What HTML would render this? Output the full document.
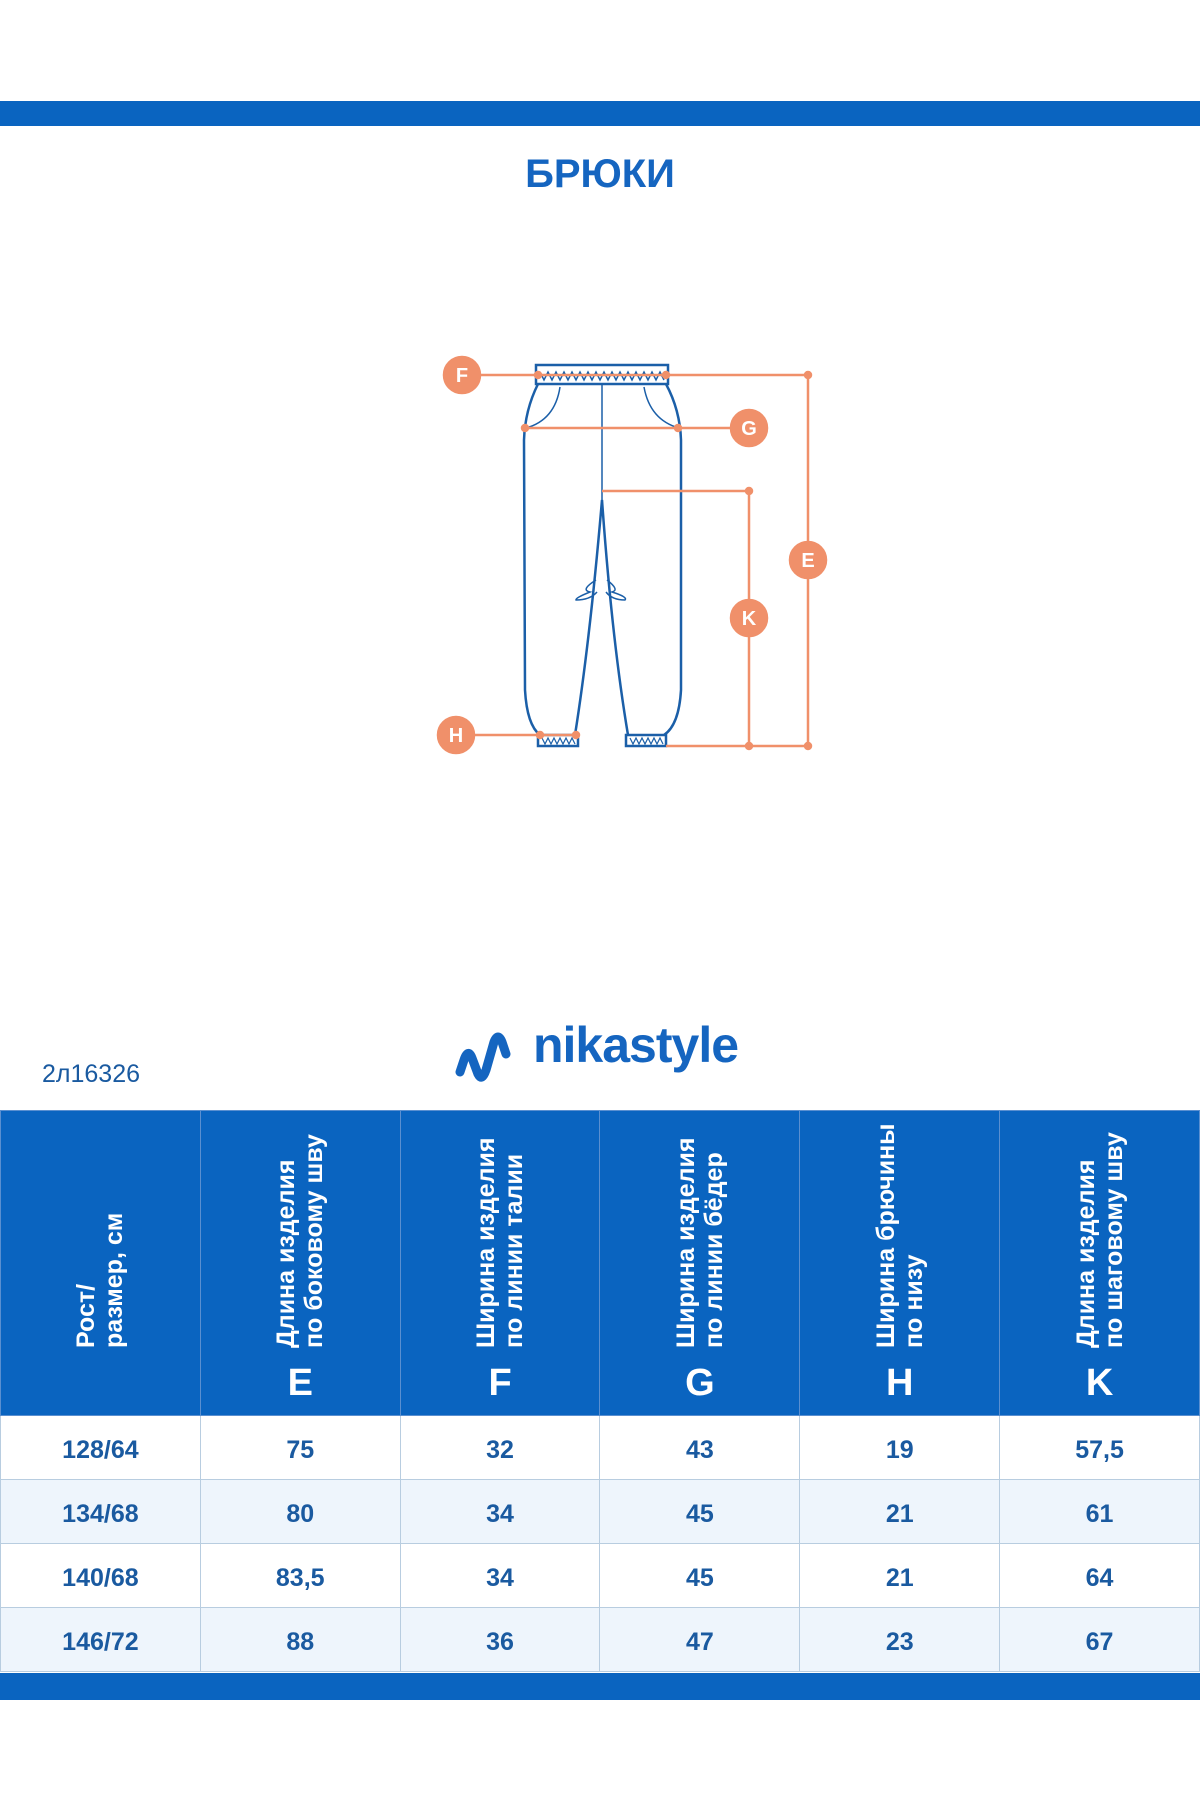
<!DOCTYPE html>
<html><head><meta charset="utf-8"><style>
body{margin:0;width:1200px;height:1800px;background:#fff;position:relative;font-family:"Liberation Sans",sans-serif;overflow:hidden}
.abs{position:absolute}
table{position:absolute;left:0;top:1110px;width:1200px;border-collapse:collapse;table-layout:fixed}
td{border:1.5px solid #b8cde0;text-align:center;color:#1a5aa0;font-weight:bold;font-size:25px;height:57px;padding:6px 0 0 0;box-sizing:content-box}
th{background:#0a64c0;border:1.5px solid #5a8fd0;height:304px;padding:0;vertical-align:bottom;color:#fff;position:relative}
.v{writing-mode:vertical-rl;transform:rotate(180deg);font-size:25px;line-height:28px;font-weight:bold;text-align:left;position:absolute;bottom:67px;left:50%;margin-left:-28px;height:260px}
.L{font-size:38px;font-weight:bold;position:absolute;bottom:10px;left:0;right:0;text-align:center}
tr.a td{background:#eef5fc}
</style></head><body>
<div class="abs" style="left:0;top:101px;width:1200px;height:25px;background:#0a64c0"></div>
<div class="abs" style="left:0;top:152px;width:1200px;text-align:center;font-size:40px;font-weight:bold;color:#1565c0">БРЮКИ</div>
<svg class="abs" style="left:0;top:0" width="1200" height="800">
<g fill="none" stroke="#1b5fa8" stroke-width="2.5">
<rect x="536" y="365" width="132" height="19"/>
<path d="M540 372 l4 8 l4 -8 l4 8 l4 -8 l4 8 l4 -8 l4 8 l4 -8 l4 8 l4 -8 l4 8 l4 -8 l4 8 l4 -8 l4 8 l4 -8 l4 8 l4 -8 l4 8 l4 -8 l4 8 l4 -8 l4 8 l4 -8 l4 8 l4 -8 l4 8 l4 -8 l4 8 l4 -8 l4 8" stroke-width="1.5"/>
<path d="M538 384 Q525 410 524 440 L525 690 Q527 725 540 735"/>
<path d="M666 384 Q680 410 681 440 L681 690 Q679 725 664 735"/>
<path d="M575 735 Q590 640 602 500 Q612 640 628 735"/>
<line x1="602" y1="384" x2="602" y2="500" stroke-width="1.5"/>
<path d="M560 387 Q555 420 526 428" stroke-width="1.5"/>
<path d="M644 387 Q650 420 679 428" stroke-width="1.5"/>
<path d="M596 580 Q580 590 590 592 Q575 598 576 600 Q590 600 597 592 M607 580 Q620 590 612 592 Q628 597 625 600 Q612 600 606 592" stroke-width="1.5"/>
<rect x="538" y="735" width="40" height="11"/>
<rect x="626" y="735" width="40" height="11"/>
<path d="M542 738 l3 6 l3 -6 l3 6 l3 -6 l3 6 l3 -6 l3 6 l3 -6 l3 6 l3 -6 l3 6 M630 738 l3 6 l3 -6 l3 6 l3 -6 l3 6 l3 -6 l3 6 l3 -6 l3 6 l3 -6 l3 6" stroke-width="1.2"/>
</g>
<g stroke="#f0906a" stroke-width="2.5" fill="#f0906a">
<line x1="462" y1="375" x2="808" y2="375"/>
<line x1="525" y1="428" x2="749" y2="428"/>
<line x1="602" y1="491" x2="749" y2="491"/>
<line x1="749" y1="491" x2="749" y2="746"/>
<line x1="808" y1="375" x2="808" y2="746"/>
<line x1="666" y1="746" x2="808" y2="746"/>
<line x1="456" y1="735" x2="576" y2="735"/>
<circle cx="808" cy="375" r="3"/><circle cx="749" cy="491" r="3"/><circle cx="749" cy="746" r="3"/><circle cx="808" cy="746" r="3"/>
<circle cx="525" cy="428" r="3"/><circle cx="678" cy="428" r="3"/><circle cx="538" cy="375" r="3"/><circle cx="666" cy="375" r="3"/><circle cx="540" cy="735" r="3"/><circle cx="576" cy="735" r="3"/>
<circle cx="462" cy="375" r="18"/><circle cx="749" cy="428" r="18"/><circle cx="808" cy="560" r="18"/><circle cx="749" cy="618" r="18"/><circle cx="456" cy="735" r="18"/>
</g>
<g fill="#fff" font-family="Liberation Sans" font-weight="bold" font-size="20" text-anchor="middle">
<text x="462" y="382">F</text><text x="749" y="435">G</text><text x="808" y="567">E</text><text x="749" y="625">K</text><text x="456" y="742">H</text>
</g>
</svg>
<svg class="abs" style="left:450px;top:1020px" width="70" height="70">
<path d="M10 52 L14 40 Q18 28 22 38 L28 54 Q32 62 36 50 L44 22 Q48 12 52 22 L56 34" fill="none" stroke="#1565c0" stroke-width="9" stroke-linecap="round" stroke-linejoin="round"/>
</svg>
<div class="abs" style="left:533px;top:1016px;font-size:50px;font-weight:bold;color:#1565c0;letter-spacing:-1px">nikastyle</div>
<div class="abs" style="left:42px;top:1060px;font-size:25px;color:#1a5aa0">2л16326</div>
<table>
<tr>
<th><div class="v">Рост/<br>размер, см</div></th>
<th><div class="v">Длина изделия<br>по боковому шву</div><div class="L">E</div></th>
<th><div class="v">Ширина изделия<br>по линии талии</div><div class="L">F</div></th>
<th><div class="v">Ширина изделия<br>по линии бёдер</div><div class="L">G</div></th>
<th><div class="v">Ширина брючины<br>по низу</div><div class="L">H</div></th>
<th><div class="v">Длина изделия<br>по шаговому шву</div><div class="L">K</div></th>
</tr>
<tr><td>128/64</td><td>75</td><td>32</td><td>43</td><td>19</td><td>57,5</td></tr>
<tr class="a"><td>134/68</td><td>80</td><td>34</td><td>45</td><td>21</td><td>61</td></tr>
<tr><td>140/68</td><td>83,5</td><td>34</td><td>45</td><td>21</td><td>64</td></tr>
<tr class="a"><td>146/72</td><td>88</td><td>36</td><td>47</td><td>23</td><td>67</td></tr>
</table>
<div class="abs" style="left:0;top:1673px;width:1200px;height:27px;background:#0a64c0"></div>
</body></html>
